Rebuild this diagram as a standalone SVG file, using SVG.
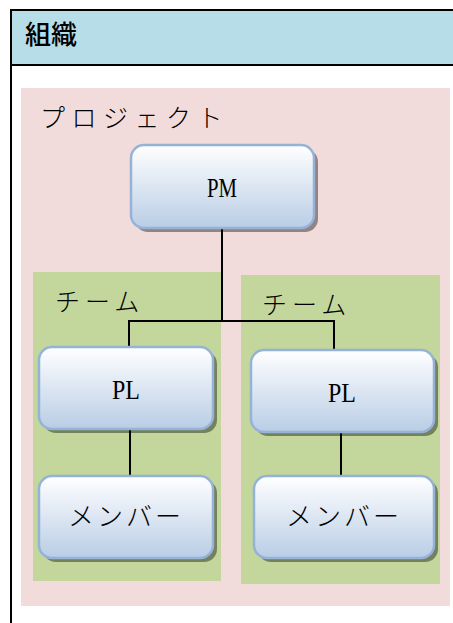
<svg xmlns="http://www.w3.org/2000/svg" width="453" height="623" viewBox="0 0 453 623">
<defs>
<linearGradient id="g" x1="0" y1="0" x2="0" y2="1">
<stop offset="0" stop-color="#FFFFFF"/>
<stop offset="1" stop-color="#B9CDE5"/>
</linearGradient>
<style>
.box{fill:url(#g);stroke:#95B3D7;stroke-width:2.5}
.sh{fill:#000;fill-opacity:0.4}
.lat{font-family:"Liberation Serif","Noto Sans CJK JP",serif;font-size:28px;fill:#000;text-anchor:middle}
.jp{font-family:"Noto Sans CJK JP",sans-serif;font-weight:300;fill:#000}
.ln{stroke:#000;stroke-width:2;fill:none}
</style>
</defs>
<rect width="453" height="623" fill="#FFFFFF"/>
<g id="frame">
<rect x="11" y="10" width="450" height="55" fill="#B7DDE8"/>
<path d="M461 10 H11 V623 M11 65 H461" stroke="#000" stroke-width="2" fill="none"/>
<text x="25" y="44" font-family="'Noto Sans CJK JP',sans-serif" font-weight="500" font-size="26" fill="#000">組織</text>
</g>
<g id="project">
<rect x="21" y="88" width="429" height="518" fill="#F2DCDB"/>
<text class="jp" x="40" y="127" font-size="25" letter-spacing="6.5">プロジェクト</text>
</g>
<g id="team1">
<rect x="33" y="272" width="188" height="309" fill="#C3D69B"/>
<text class="jp" x="55" y="311" font-size="25" letter-spacing="5">チーム</text>
</g>
<g id="team2">
<rect x="241" y="275" width="199" height="309" fill="#C3D69B"/>
<text class="jp" x="262" y="314" font-size="25" letter-spacing="5">チーム</text>
</g>
<g id="connectors">
<path class="ln" d="M222 228 V321 M129 349 V321 H334 V349"/>
<path class="ln" d="M130 430 V476"/>
<path class="ln" d="M341 433 V476"/>
</g>
<g id="pm">
<rect class="sh" x="135" y="149" width="183" height="83" rx="13"/>
<rect class="box" x="131" y="145" width="183" height="83" rx="13"/>
<text class="lat" x="222" y="197" textLength="30" lengthAdjust="spacingAndGlyphs">PM</text>
</g>
<g id="pl1">
<rect class="sh" x="43" y="351" width="174" height="82" rx="13"/>
<rect class="box" x="39" y="347" width="174" height="82" rx="13"/>
<text class="lat" x="126" y="399" textLength="28" lengthAdjust="spacingAndGlyphs">PL</text>
</g>
<g id="pl2">
<rect class="sh" x="255" y="354" width="183" height="82" rx="13"/>
<rect class="box" x="251" y="350" width="183" height="82" rx="13"/>
<text class="lat" x="342" y="402" textLength="28" lengthAdjust="spacingAndGlyphs">PL</text>
</g>
<g id="member1">
<rect class="sh" x="43" y="480" width="174" height="82" rx="13"/>
<rect class="box" x="39" y="476" width="174" height="82" rx="13"/>
<text class="jp" x="126" y="526" font-size="26" text-anchor="middle" letter-spacing="3">メンバー</text>
</g>
<g id="member2">
<rect class="sh" x="258" y="480" width="180" height="82" rx="13"/>
<rect class="box" x="254" y="476" width="180" height="82" rx="13"/>
<text class="jp" x="344" y="526" font-size="26" text-anchor="middle" letter-spacing="3">メンバー</text>
</g>
</svg>
